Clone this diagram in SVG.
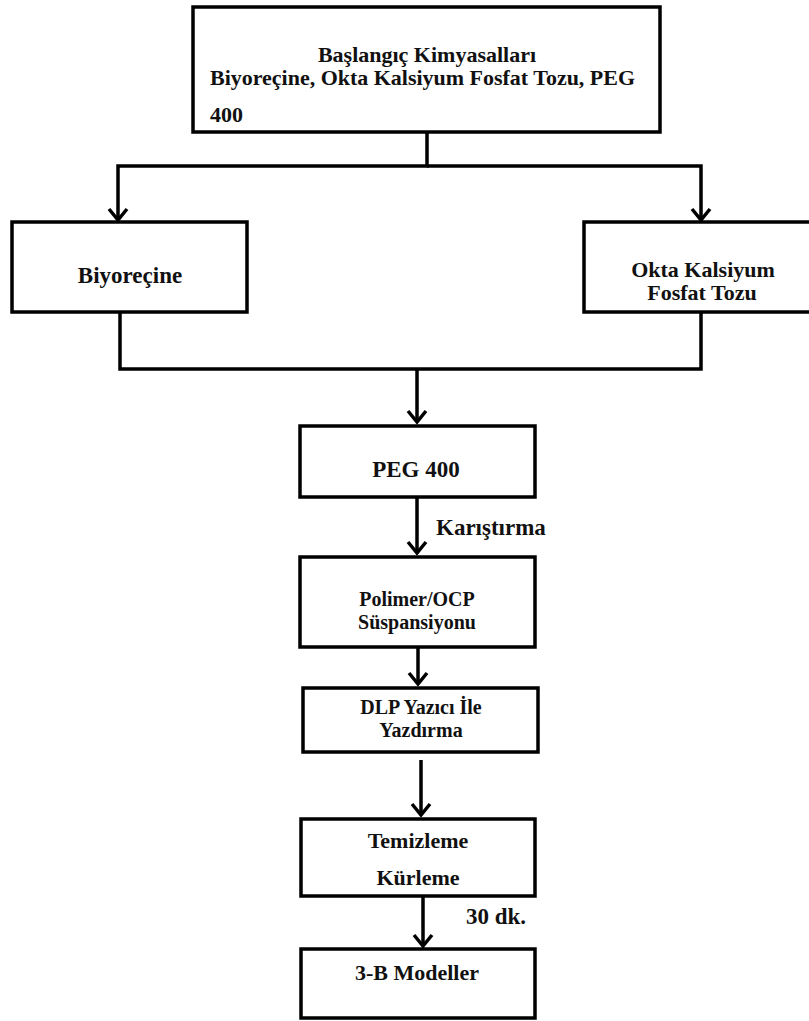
<svg xmlns="http://www.w3.org/2000/svg" width="809" height="1021" viewBox="0 0 809 1021">
<style>
.box{fill:#fff;stroke:#000;stroke-width:3.5}
.t{font-family:"Liberation Serif","Times New Roman",serif;font-weight:bold;fill:#111;text-anchor:middle}
.s22{font-size:22px}.s23{font-size:23px}.s20{font-size:20px}
.ln{fill:none;stroke:#000;stroke-width:3.5}
</style>
<defs>
<marker id="ah" markerUnits="userSpaceOnUse" markerWidth="30" markerHeight="30" refX="0" refY="0" orient="auto" overflow="visible">
<path d="M-11,-9 L0,0 L-11,9" fill="none" stroke="#000" stroke-width="3.5"/>
</marker>
</defs>
<rect width="809" height="1021" fill="#fff"/>
<g id="connectors">
<path class="ln" d="M427,132 V166 H118 V220" marker-end="url(#ah)"/>
<path class="ln" d="M427,166 H701 V220" marker-end="url(#ah)"/>
<path class="ln" d="M120,312 V369 H701 V312"/>
<path class="ln" d="M417,369 V422" marker-end="url(#ah)"/>
<path class="ln" d="M417,497 V553" marker-end="url(#ah)"/>
<path class="ln" d="M418,647 V684" marker-end="url(#ah)"/>
<path class="ln" d="M421,760 V815" marker-end="url(#ah)"/>
<path class="ln" d="M423,896 V946" marker-end="url(#ah)"/>
</g>
<g id="n-start">
<rect class="box" x="193" y="7" width="467" height="125"/>
<text class="t s22" x="427" y="62">Başlangıç Kimyasalları</text>
<text class="t s22" x="210" y="85" style="text-anchor:start" textLength="425" lengthAdjust="spacingAndGlyphs">Biyoreçine, Okta Kalsiyum Fosfat Tozu, PEG</text>
<text class="t s22" x="210" y="122" style="text-anchor:start">400</text>
</g>
<g id="n-biyorecine">
<rect class="box" x="12" y="222" width="235" height="90"/>
<text class="t s23" x="130" y="283">Biyoreçine</text>
</g>
<g id="n-okta">
<rect class="box" x="584" y="222" width="240" height="90"/>
<text class="t s22" x="703" y="277">Okta Kalsiyum</text>
<text class="t s22" x="702" y="300">Fosfat Tozu</text>
</g>
<g id="n-peg">
<rect class="box" x="300" y="426" width="235" height="71"/>
<text class="t s23" x="416" y="477">PEG 400</text>
</g>
<g id="lbl-karistirma">
<text class="t s23" x="436" y="535" style="text-anchor:start">Karıştırma</text>
</g>
<g id="n-polimer">
<rect class="box" x="300" y="557" width="235" height="90"/>
<text class="t s20" x="417" y="606">Polimer/OCP</text>
<text class="t s20" x="417" y="629">Süspansiyonu</text>
</g>
<g id="n-dlp">
<rect class="box" x="303" y="688" width="235" height="64"/>
<text class="t s20" x="421" y="714">DLP Yazıcı İle</text>
<text class="t s20" x="421" y="737">Yazdırma</text>
</g>
<g id="n-temizleme">
<rect class="box" x="301" y="819" width="234" height="77"/>
<text class="t s22" x="418" y="848">Temizleme</text>
<text class="t s22" x="418" y="885">Kürleme</text>
</g>
<g id="lbl-30dk">
<text class="t s23" x="466" y="924" style="text-anchor:start">30 dk.</text>
</g>
<g id="n-modeller">
<rect class="box" x="301" y="949" width="234" height="69"/>
<text class="t s22" x="417" y="980">3-B Modeller</text>
</g>
</svg>
